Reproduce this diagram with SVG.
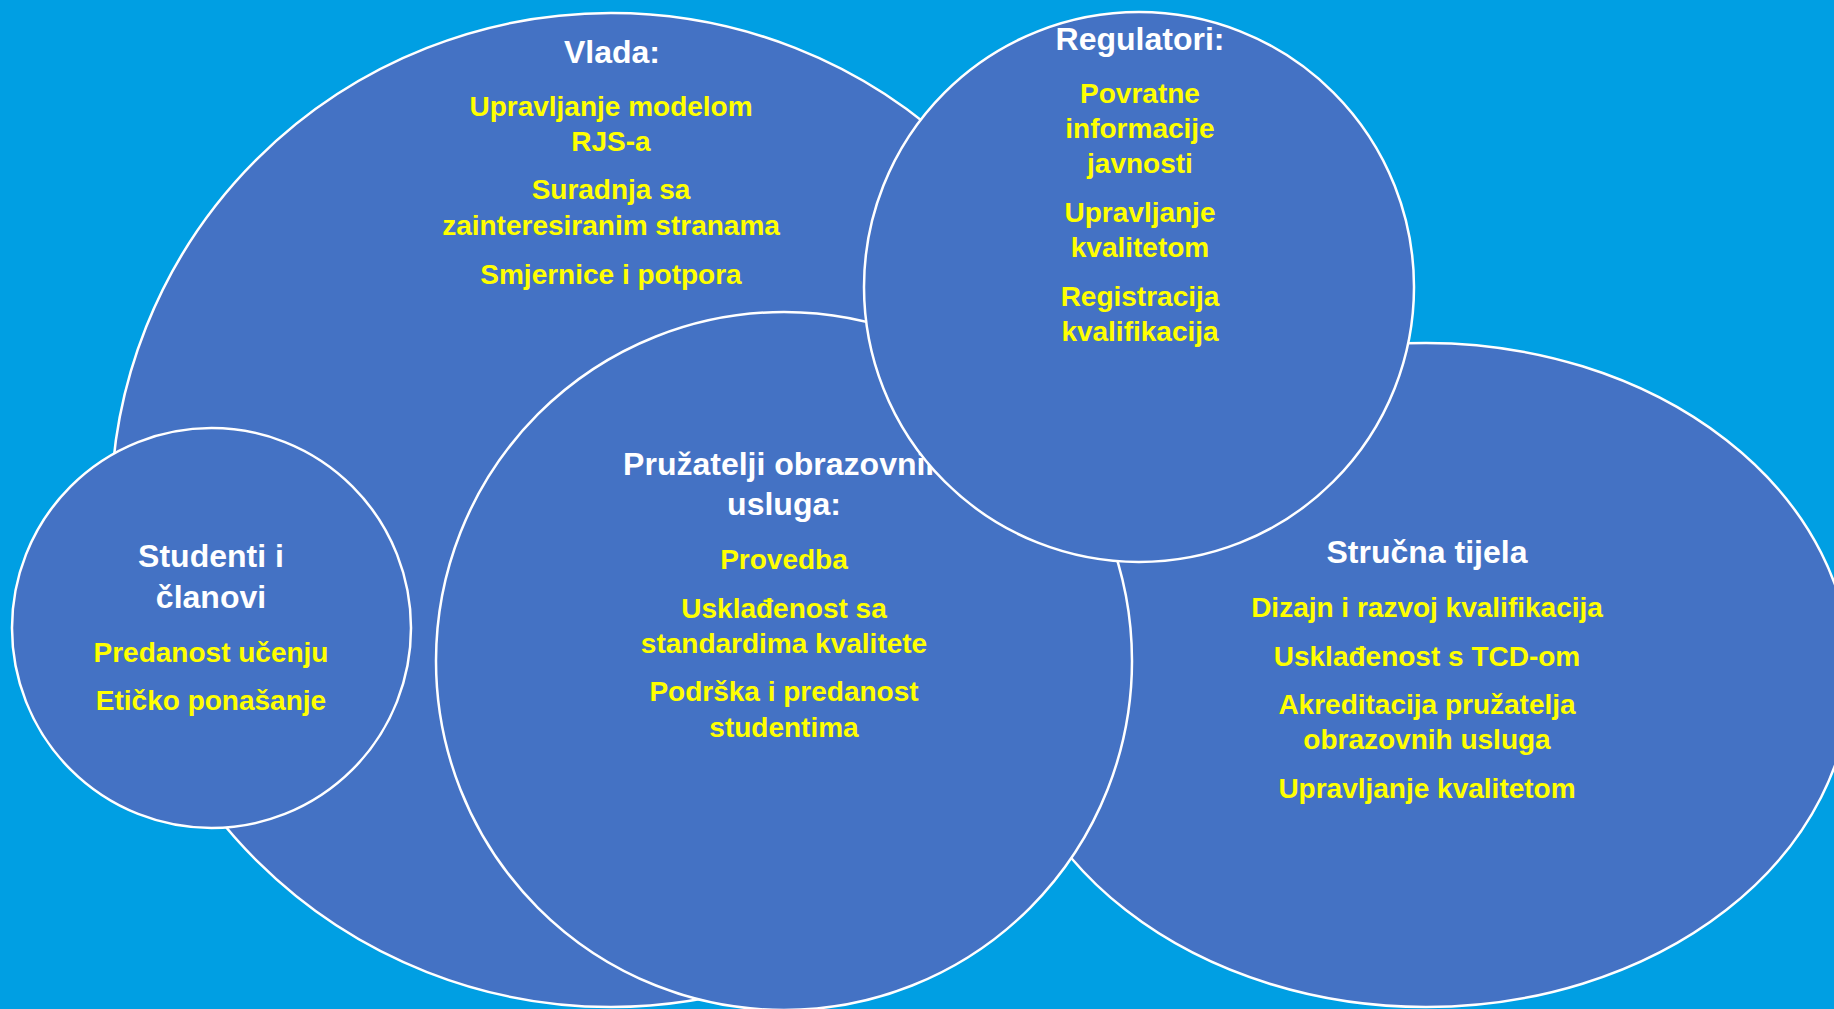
<svg xmlns="http://www.w3.org/2000/svg" width="1834" height="1009" viewBox="0 0 1834 1009">
<style>
.bg{fill:#009FE3}
.node{fill:#4472C4;stroke:#FFFFFF;stroke-width:2.5}
text{font-family:"Liberation Sans",Arial,sans-serif;font-weight:bold;text-anchor:middle}
.t{fill:#FFFFFF;font-size:32px}
.i{fill:#FFFF00;font-size:28px}
</style>
<rect class="bg" x="0" y="0" width="1834" height="1009"/>
<g id="vlada">
<ellipse class="node" cx="611" cy="510" rx="500" ry="497"/>
<text class="t" x="612" y="63">Vlada:</text>
<text class="i" x="611" y="116">Upravljanje modelom</text>
<text class="i" x="611" y="151">RJS-a</text>
<text class="i" x="611" y="199">Suradnja sa</text>
<text class="i" x="611" y="235">zainteresiranim stranama</text>
<text class="i" x="611" y="284">Smjernice i potpora</text>
</g>
<g id="strucna-tijela">
<ellipse class="node" cx="1426" cy="675" rx="425" ry="332"/>
<text class="t" x="1427" y="563">Stručna tijela</text>
<text class="i" x="1427" y="617">Dizajn i razvoj kvalifikacija</text>
<text class="i" x="1427" y="666">Usklađenost s TCD-om</text>
<text class="i" x="1427" y="714">Akreditacija pružatelja</text>
<text class="i" x="1427" y="749">obrazovnih usluga</text>
<text class="i" x="1427" y="798">Upravljanje kvalitetom</text>
</g>
<g id="studenti">
<ellipse class="node" cx="211.5" cy="628" rx="199.5" ry="200"/>
<text class="t" x="211" y="567">Studenti i</text>
<text class="t" x="211" y="608">članovi</text>
<text class="i" x="211" y="662">Predanost učenju</text>
<text class="i" x="211" y="710">Etičko ponašanje</text>
</g>
<g id="pruzatelji">
<ellipse class="node" cx="784" cy="661" rx="348" ry="349"/>
<text class="t" x="784" y="475">Pružatelji obrazovnih</text>
<text class="t" x="784" y="515">usluga:</text>
<text class="i" x="784" y="569">Provedba</text>
<text class="i" x="784" y="618">Usklađenost sa</text>
<text class="i" x="784" y="653">standardima kvalitete</text>
<text class="i" x="784" y="701">Podrška i predanost</text>
<text class="i" x="784" y="737">studentima</text>
</g>
<g id="regulatori">
<ellipse class="node" cx="1139" cy="287" rx="275" ry="275"/>
<text class="t" x="1140" y="50">Regulatori:</text>
<text class="i" x="1140" y="103">Povratne</text>
<text class="i" x="1140" y="138">informacije</text>
<text class="i" x="1140" y="173">javnosti</text>
<text class="i" x="1140" y="222">Upravljanje</text>
<text class="i" x="1140" y="257">kvalitetom</text>
<text class="i" x="1140" y="306">Registracija</text>
<text class="i" x="1140" y="341">kvalifikacija</text>
</g>
<g id="connectors"/>
</svg>
